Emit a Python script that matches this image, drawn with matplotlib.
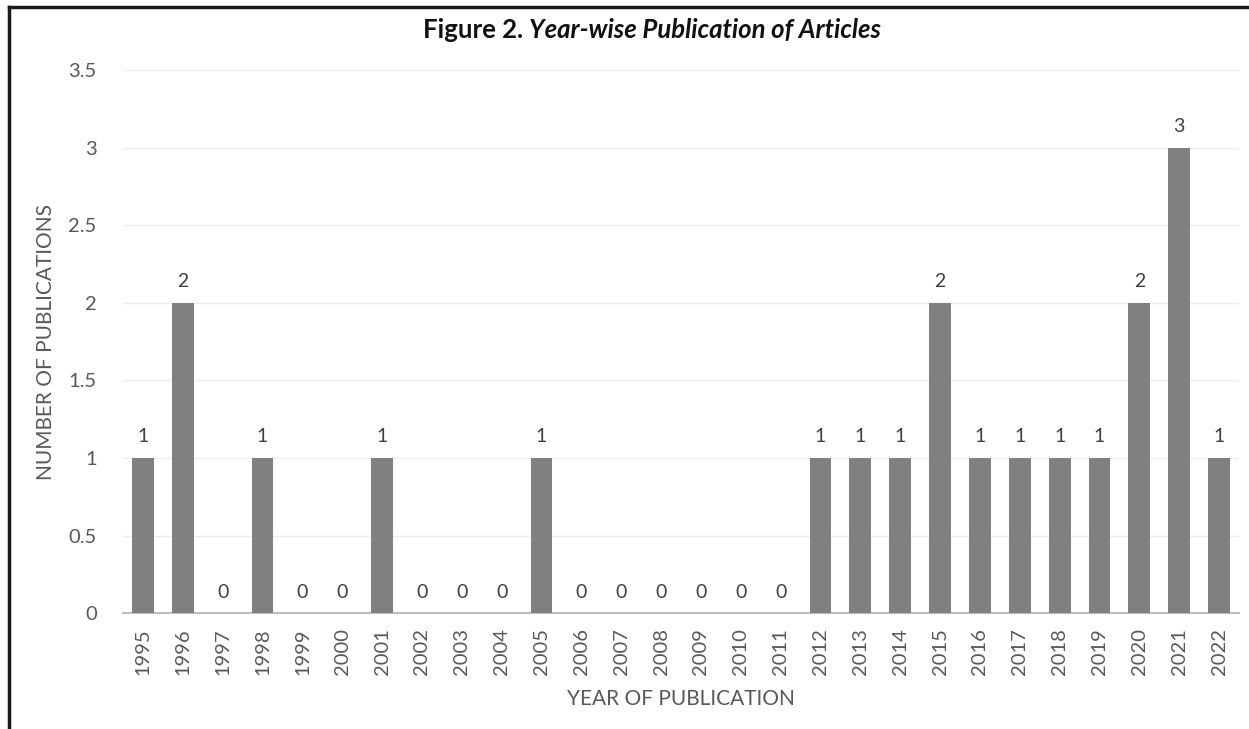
import matplotlib
matplotlib.use("Agg")
import matplotlib.pyplot as plt
from matplotlib.lines import Line2D

years = [str(y) for y in range(1995, 2023)]
publications = [1, 2, 0, 1, 0, 0, 1, 0, 0, 0, 1, 0, 0, 0, 0, 0, 0,
                1, 1, 1, 2, 1, 1, 1, 1, 2, 3, 1]
y_ticks = [0, 0.5, 1, 1.5, 2, 2.5, 3, 3.5]
y_tick_labels = ["0", "0.5", "1", "1.5", "2", "2.5", "3", "3.5"]

plt.rcParams["font.family"] = ["Lato", "DejaVu Sans"]

fig = plt.figure(figsize=(12.49, 7.29), dpi=100)
ax = fig.add_axes([0.0985, 0.159, 0.8935, 0.745])

x = list(range(len(years)))
bars = ax.bar(x, publications, width=0.55, color="#808080", zorder=3)

ax.set_xlim(-0.5, len(years) - 0.5)
ax.set_ylim(0, 3.5)
ax.set_yticks(y_ticks)
ax.set_yticklabels(y_tick_labels)
ax.set_xticks(x)
ax.set_xticklabels(years, rotation=90)

ax.grid(axis="y", color="#ececec", linewidth=1, zorder=0)
for side in ("top", "right", "left"):
    ax.spines[side].set_visible(False)
ax.spines["bottom"].set_color("#bdbdbd")
ax.spines["bottom"].set_linewidth(1.5)
ax.tick_params(axis="both", length=0, colors="#595959", labelsize=14.5)
ax.tick_params(axis="y", pad=19)
ax.tick_params(axis="x", pad=11)

for rect, v in zip(bars, publications):
    ax.annotate(str(v), (rect.get_x() + rect.get_width() / 2, v),
                xytext=(0, 9), textcoords="offset points",
                ha="center", va="bottom", fontsize=14, color="#404040")

ax.set_ylabel("NUMBER OF PUBLICATIONS", fontsize=15, color="#595959",
              labelpad=9)
ax.set_xlabel("YEAR OF PUBLICATION", fontsize=15, color="#595959",
              labelpad=10)

# Two-part title: plain bold label followed by a bold italic caption,
# centred as a whole above the chart
title_y = 0.959
part1 = fig.text(0, title_y, "Figure 2. ", ha="left", va="center",
                 fontsize=18.5, fontweight="bold", color="#111111")
part2 = fig.text(0, title_y, "Year-wise Publication of Articles", ha="left",
                 va="center", fontsize=18.5, fontweight="bold",
                 fontstyle="italic", color="#111111")
renderer = fig.canvas.get_renderer()
w1 = part1.get_window_extent(renderer).width / fig.bbox.width
w2 = part2.get_window_extent(renderer).width / fig.bbox.width
start = 0.522 - (w1 + w2) / 2
part1.set_x(start)
part2.set_x(start + w1)

# Frame lines along the top and left edges of the figure
fig.add_artist(Line2D([0.007, 1.0], [0.991, 0.991], transform=fig.transFigure,
                      color="#1a1a1a", linewidth=2.5))
fig.add_artist(Line2D([0.0075, 0.0075], [0.0, 0.991], transform=fig.transFigure,
                      color="#1a1a1a", linewidth=2.5))

fig.savefig("out.png", dpi=100, facecolor="white")
